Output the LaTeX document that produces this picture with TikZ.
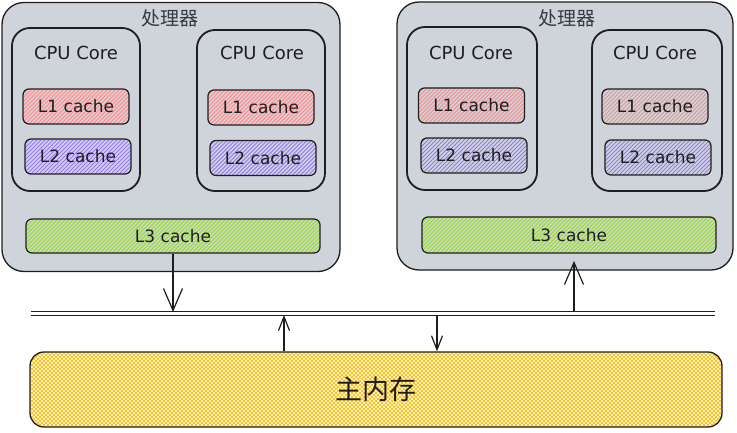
\documentclass[tikz,border=0pt]{standalone}
\usepackage{fontspec}
\setmainfont{DejaVu Sans}
\newfontfamily\cjk{Noto Sans CJK SC}
\usetikzlibrary{arrows.meta}
\definecolor{procgray}{HTML}{CED4DA}
\definecolor{inkblack}{HTML}{1E1E1E}
\definecolor{titlegray}{HTML}{343A40}
\definecolor{hatchred}{HTML}{FF8787}
\definecolor{hatchviolet}{HTML}{9775FA}
\definecolor{hatchgreen}{HTML}{94D82D}
\definecolor{hatchyellow}{HTML}{FCC419}
\tikzset{
  hatchlines/.style={path picture={\foreach \k in {-90,-86,...,310}
    \draw[#1, line width=0.75pt] ([xshift=\k pt]path picture bounding box.south west) -- ++(90pt,90pt);}},
  crosshatch/.style={path picture={\foreach \k in {-80,-76,...,780} {
    \draw[#1, line width=0.9pt] ([xshift=\k pt]path picture bounding box.south west) -- ++(80pt,80pt);
    \draw[#1, line width=0.9pt] ([xshift=\k pt]path picture bounding box.south west) -- ++(-80pt,80pt);}}},
  procbox/.style={draw=inkblack, line width=1.3pt, fill=procgray, rounded corners=22pt,
    minimum width=338pt, minimum height=269pt, inner sep=0pt},
  corebox/.style={draw=inkblack, line width=1.8pt, rounded corners=18pt,
    minimum width=128pt, minimum height=162pt, inner sep=0pt},
  cachebox/.style={draw=inkblack, line width=1.2pt, rounded corners=6pt,
    minimum width=106pt, minimum height=35pt, inner sep=0pt, text=inkblack,
    font=\fontsize{17}{17}\selectfont},
  lonebox/.style={cachebox, hatchlines=hatchred},
  ltwobox/.style={cachebox, hatchlines=hatchviolet},
  lthreebox/.style={cachebox, minimum width=294pt, hatchlines=hatchgreen},
  corelabel/.style={text=inkblack, font=\fontsize{18}{18}\selectfont},
  proclabel/.style={text=titlegray, font=\cjk\fontsize{19}{19}\selectfont},
  flow/.style={draw=inkblack, line width=1.2pt, -{Straight Barb[length=22pt,width=19pt,line width=1.2pt]}},
  memflow/.style={draw=inkblack, line width=1.2pt, -{Straight Barb[length=14pt,width=11pt,line width=1.2pt]}}
}
\begin{document}
\begin{tikzpicture}[x=1pt,y=-1pt]
  \useasboundingbox (0,0) rectangle (737,433);
  \node[procbox] (proc1) at (171,137) {};
  \node[procbox, minimum width=336pt, minimum height=268pt] (proc2) at (565,136) {};
  \node[proclabel] (title1) at (170,18) {处理器};
  \node[proclabel] (title2) at (567,18) {处理器};
  \node[corebox, minimum height=163pt] (core11) at (76,109.5) {};
  \node[corebox, minimum height=161pt] (core12) at (261,110.5) {};
  \node[corebox, minimum width=130pt, minimum height=163pt] (core21) at (472,108.5) {};
  \node[corebox, minimum width=130pt, minimum height=161pt] (core22) at (657,110.5) {};
  \node[corelabel] (core11-t) at (76,53) {CPU Core};
  \node[corelabel] (core12-t) at (262,53) {CPU Core};
  \node[corelabel] (core21-t) at (471,53) {CPU Core};
  \node[corelabel] (core22-t) at (655,53) {CPU Core};
  \node[lonebox] (lone11) at (76,106.5) {L1 cache};
  \node[lonebox] (lone12) at (261,107.5) {L1 cache};
  \node[lonebox] (lone21) at (471.5,105.5) {L1 cache};
  \node[lonebox] (lone22) at (655,106.5) {L1 cache};
  \node[ltwobox] (ltwo11) at (78,156.5) {L2 cache};
  \node[ltwobox] (ltwo12) at (263,158) {L2 cache};
  \node[ltwobox] (ltwo21) at (474,155.5) {L2 cache};
  \node[ltwobox] (ltwo22) at (658,157.5) {L2 cache};
  \node[lthreebox, minimum height=34pt] (lthree1) at (173,236) {L3 cache};
  \node[lthreebox, minimum height=36pt] (lthree2) at (569,235) {L3 cache};
  \node[draw=inkblack, line width=1.3pt, rounded corners=14pt, minimum width=692pt, minimum height=75pt,
    crosshatch=hatchyellow, text=inkblack, font=\cjk\fontsize{27}{27}\selectfont] (mem) at (376,389.5) {主内存};
  \coordinate (busL) at (31,313.5);
  \coordinate (busR) at (715,313.5);
  \draw[inkblack, line width=1.1pt, double=white, double distance=2.4pt] (busL) -- (busR);
  \draw[flow, shorten >=1.5pt] (lthree1.south) -- (lthree1.south |- busL);
  \coordinate (upR) at (574,261);
  \draw[flow, shorten <=1.5pt] (upR |- busL) -- (upR);
  \draw[memflow] ([xshift=-92pt]mem.north) -- ([xshift=-92pt,yshift=-1.5pt]mem.north |- busR);
  \draw[memflow] ([xshift=61pt,yshift=-1.5pt]mem.north |- busR) -- ([xshift=61pt]mem.north);
\end{tikzpicture}
\end{document}
